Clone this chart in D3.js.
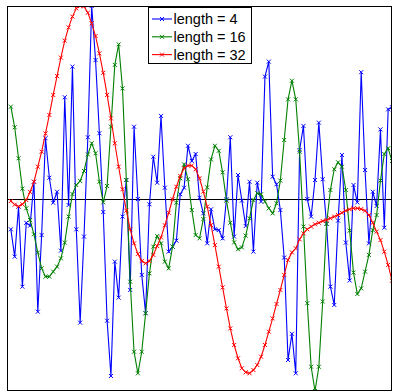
<!DOCTYPE html>
<html>
<head>
<meta charset="utf-8">
<script src="https://d3js.org/d3.v7.min.js"></script>
<style>
  html, body { margin: 0; padding: 0; background: #fff; }
  svg { display: block; }
</style>
</head>
<body>
<svg id="chart" width="393" height="392"></svg>
<script>
const seriesNames = ["length = 4", "length = 16", "length = 32"];
const seriesColors = ["#0000ff", "#008000", "#ff0000"];

const len4 = [
  -0.160, -0.302, -0.042, -0.458, -0.126, -0.141, 0.087, -0.588, -0.190, 0.313,
  0.108, -0.022, 0.035, -0.271, 0.526, -0.034, 0.685, -0.160, -0.645, -0.198,
  0.318, 1.000, 0.719, 0.339, -0.070, -0.635, -0.922, -0.328, -0.515, -0.094,
  0.096, -0.475, 0.373, -0.003, -0.397, -0.596, -0.030, 0.217, 0.082, 0.429,
  0.056, -0.276, -0.250, -0.219, 0.022, 0.056, 0.274, 0.195, 0.231, 0.004,
  -0.077, -0.233, -0.056, -0.160, -0.164, -0.207, -0.004, 0.318, -0.198, 0.122,
  -0.011, -0.143, 0.087, -0.276, 0.082, -0.016, 0.633, 0.711, 0.113, 0.074,
  -0.060, -0.307, -0.839, -0.703, -0.908, 0.252, 0.377, -0.003, -0.094, 0.096,
  0.394, 0.100, -0.132, -0.458, -0.553, -0.115, 0.226, -0.229, -0.426, 0.070,
  -0.020, 0.656, 0.148, -0.233, 0.035, -0.039, 0.359, -0.152, 0.463, 0.474
];

const len16 = [
  0.477, 0.370, 0.209, 0.051, -0.051, -0.112, -0.186, -0.281, -0.363, -0.406,
  -0.406, -0.380, -0.354, -0.311, -0.229, -0.094, 0.023, 0.070, 0.091, 0.143,
  0.229, 0.287, 0.235, 0.087, -0.020, 0.065, 0.373, 0.694, 0.801, 0.572,
  0.096, -0.432, -0.796, -0.908, -0.796, -0.596, -0.389, -0.250, -0.195, -0.233,
  -0.328, -0.363, -0.250, -0.022, 0.105, 0.177, 0.100, -0.060, -0.190, -0.207,
  -0.107, 0.058, 0.203, 0.274, 0.248, 0.136, -0.011, -0.126, -0.228, -0.264,
  -0.254, -0.193, -0.103, -0.008, 0.027, 0.022, -0.016, -0.051, -0.077, -0.025,
  0.093, 0.304, 0.515, 0.612, 0.515, 0.243, -0.146, -0.544, -0.874, -1.000,
  -0.874, -0.535, -0.132, 0.044, 0.152, 0.188, 0.165, 0.044, -0.167, -0.385,
  -0.496, -0.467, -0.380, -0.293, -0.164, -0.086, 0.093, 0.231, 0.261, 0.195
];

const len32 = [
  -0.013, -0.032, -0.041, -0.030, -0.008, 0.034, 0.087, 0.165, 0.243, 0.338,
  0.434, 0.538, 0.636, 0.732, 0.820, 0.889, 0.945, 0.988, 1.000, 0.998,
  0.965, 0.910, 0.844, 0.754, 0.653, 0.538, 0.416, 0.287, 0.165, 0.048,
  -0.063, -0.160, -0.233, -0.288, -0.325, -0.337, -0.325, -0.293, -0.247, -0.202,
  -0.139, -0.074, -0.004, 0.061, 0.117, 0.157, 0.171, 0.171, 0.152, 0.105,
  0.036, -0.042, -0.138, -0.242, -0.354, -0.462, -0.571, -0.675, -0.761, -0.830,
  -0.882, -0.903, -0.908, -0.891, -0.865, -0.822, -0.761, -0.692, -0.623, -0.548,
  -0.475, -0.397, -0.319, -0.280, -0.259, -0.212, -0.181, -0.160, -0.146, -0.134,
  -0.126, -0.117, -0.112, -0.103, -0.094, -0.086, -0.074, -0.063, -0.056, -0.051,
  -0.051, -0.055, -0.063, -0.086, -0.126, -0.172, -0.216, -0.276, -0.345, -0.427
];

const allSeries = [len4, len16, len32];

const svg = d3.select("#chart");
const pLeft = 7, pRight = 392, pTop = 6, pBottom = 391;

const x = d3.scaleLinear().domain([0, 100]).range([pLeft, pRight]);
const y = d3.scaleLinear().domain([-1, 1]).range([pBottom, pTop]);

svg.append("defs").append("clipPath").attr("id", "plotclip")
  .append("rect").attr("x", pLeft).attr("y", pTop)
  .attr("width", pRight - pLeft).attr("height", pBottom - pTop);

const plot = svg.append("g").attr("clip-path", "url(#plotclip)");

// zero line
plot.append("line")
  .attr("x1", pLeft).attr("x2", pRight)
  .attr("y1", Math.round(y(0)) + 0.5).attr("y2", Math.round(y(0)) + 0.5)
  .attr("stroke", "#000").attr("stroke-width", 1);

const line = d3.line().x((d, i) => x(i + 1)).y(d => y(d));
const ms = 2;
const xMark = (cx, cy) => `M${cx - ms},${cy - ms}L${cx + ms},${cy + ms}M${cx - ms},${cy + ms}L${cx + ms},${cy - ms}`;

allSeries.forEach((data, s) => {
  const g = plot.append("g");
  g.append("path").datum(data)
    .attr("d", line)
    .attr("fill", "none")
    .attr("stroke", seriesColors[s])
    .attr("stroke-width", 1.1);
  g.append("path")
    .attr("d", data.map((d, i) => xMark(x(i + 1), y(d))).join(""))
    .attr("fill", "none")
    .attr("stroke", seriesColors[s])
    .attr("stroke-width", 1);
});

// frame
svg.append("rect")
  .attr("x", pLeft + 0.5).attr("y", pTop + 0.5)
  .attr("width", pRight - pLeft - 1).attr("height", pBottom - pTop - 1)
  .attr("fill", "none").attr("stroke", "#000").attr("stroke-width", 1);

// legend
const lg = svg.append("g");
lg.append("rect")
  .attr("x", 148.5).attr("y", 7.5).attr("width", 103).attr("height", 56)
  .attr("fill", "#fff").attr("stroke", "#000").attr("stroke-width", 1);
seriesNames.forEach((name, s) => {
  const cy = 19 + s * 17.8;
  lg.append("line")
    .attr("x1", 152).attr("x2", 172).attr("y1", cy).attr("y2", cy)
    .attr("stroke", seriesColors[s]).attr("stroke-width", 1.1);
  lg.append("path").attr("d", xMark(162, cy))
    .attr("fill", "none").attr("stroke", seriesColors[s]).attr("stroke-width", 1);
  lg.append("text")
    .attr("x", 173.5).attr("y", cy + 5.3)
    .attr("font-family", "'Liberation Sans', Arial, sans-serif")
    .attr("font-size", 14.5)
    .attr("fill", "#000")
    .text(name);
});
</script>
</body>
</html>
